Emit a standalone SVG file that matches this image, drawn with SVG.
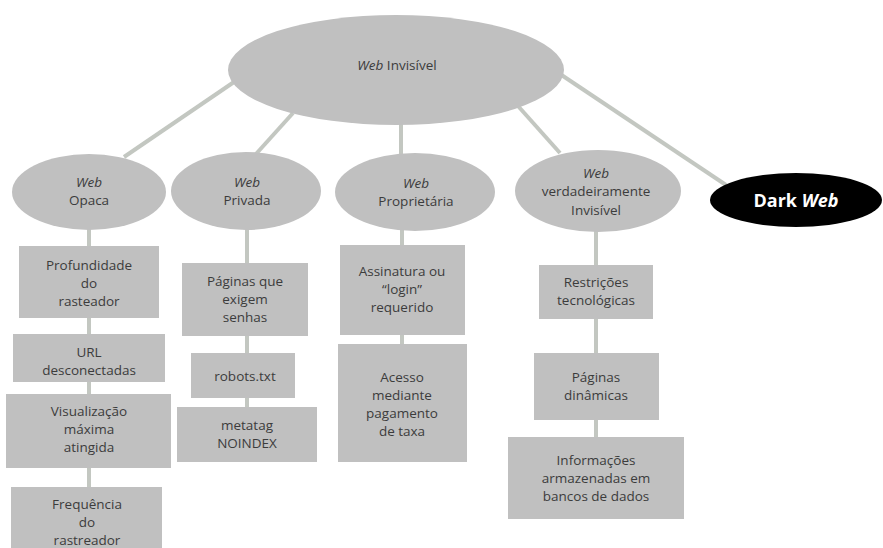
<svg xmlns="http://www.w3.org/2000/svg" width="883" height="548" viewBox="0 0 883 548">
<style>
.bg{fill:#ffffff}
.el{fill:#c0c0c0}
.box{fill:#c0c0c0}
.ln{stroke:#c3c7c1;stroke-width:4;fill:none}
text{font-family:"Open Sans","Liberation Sans",sans-serif;font-size:13.5px;fill:#3c3c3c;text-anchor:middle}
.it{font-style:italic}
.dark{font-family:"Open Sans","Liberation Sans",sans-serif;font-size:18px;font-weight:bold;fill:#ffffff}
</style>
<rect class="bg" x="0" y="0" width="883" height="548"/>
<g id="connectors">
<line class="ln" x1="234" y1="82" x2="124" y2="157"/>
<line class="ln" x1="293" y1="113" x2="256" y2="154"/>
<line class="ln" x1="401" y1="124" x2="401" y2="155"/>
<line class="ln" x1="518" y1="106" x2="560" y2="153"/>
<line class="ln" x1="560" y1="74" x2="726" y2="185"/>
<line class="ln" x1="89" y1="228" x2="89" y2="490"/>
<line class="ln" x1="247" y1="228" x2="247" y2="410"/>
<line class="ln" x1="402" y1="228" x2="402" y2="346"/>
<line class="ln" x1="596" y1="230" x2="596" y2="440"/>
</g>
<g id="web-invisivel">
<ellipse class="el" cx="396" cy="70" rx="168" ry="55"/>
<text x="397" y="70"><tspan class="it">Web</tspan> Invisível</text>
</g>
<g id="web-opaca">
<ellipse class="el" cx="89" cy="192" rx="77" ry="38"/>
<text x="89" y="187" class="it">Web</text>
<text x="89" y="205">Opaca</text>
</g>
<g id="web-privada">
<ellipse class="el" cx="246" cy="191" rx="75" ry="39"/>
<text x="247" y="187" class="it">Web</text>
<text x="247" y="205">Privada</text>
</g>
<g id="web-proprietaria">
<ellipse class="el" cx="415" cy="192" rx="80" ry="39"/>
<text x="416" y="188" class="it">Web</text>
<text x="416" y="206">Proprietária</text>
</g>
<g id="web-verdadeiramente">
<ellipse class="el" cx="598" cy="191" rx="83" ry="41"/>
<text x="596" y="178" class="it">Web</text>
<text x="596" y="196">verdadeiramente</text>
<text x="596" y="215">Invisível</text>
</g>
<g id="dark-web">
<ellipse cx="796" cy="200" rx="86" ry="27" fill="#000000"/>
<text x="796" y="207" class="dark">Dark <tspan font-style="italic">Web</tspan></text>
</g>
<g id="profundidade">
<rect class="box" x="19" y="246" width="140" height="72"/>
<text x="89" y="270">Profundidade</text>
<text x="89" y="288">do</text>
<text x="89" y="306">rasteador</text>
</g>
<g id="url">
<rect class="box" x="13" y="334" width="152" height="48"/>
<text x="89" y="357">URL</text>
<text x="89" y="375">desconectadas</text>
</g>
<g id="visualizacao">
<rect class="box" x="6" y="394" width="165" height="74"/>
<text x="89" y="416">Visualização</text>
<text x="89" y="434">máxima</text>
<text x="89" y="452">atingida</text>
</g>
<g id="frequencia">
<rect class="box" x="11" y="487" width="151" height="70"/>
<text x="87" y="509">Frequência</text>
<text x="87" y="527">do</text>
<text x="87" y="545">rastreador</text>
</g>
<g id="paginas-senhas">
<rect class="box" x="182" y="263" width="126" height="73"/>
<text x="245" y="286">Páginas que</text>
<text x="245" y="304">exigem</text>
<text x="245" y="322">senhas</text>
</g>
<g id="robots">
<rect class="box" x="191" y="353" width="104" height="45"/>
<text x="245" y="381">robots.txt</text>
</g>
<g id="metatag">
<rect class="box" x="177" y="407" width="140" height="55"/>
<text x="247" y="430">metatag</text>
<text x="247" y="448">NOINDEX</text>
</g>
<g id="assinatura">
<rect class="box" x="340" y="245" width="125" height="90"/>
<text x="402" y="276">Assinatura ou</text>
<text x="402" y="294">“login”</text>
<text x="402" y="312">requerido</text>
</g>
<g id="acesso">
<rect class="box" x="338" y="344" width="129" height="118"/>
<text x="402" y="382">Acesso</text>
<text x="402" y="400">mediante</text>
<text x="402" y="418">pagamento</text>
<text x="402" y="436">de taxa</text>
</g>
<g id="restricoes">
<rect class="box" x="539" y="265" width="114" height="54"/>
<text x="596" y="287">Restrições</text>
<text x="596" y="305">tecnológicas</text>
</g>
<g id="paginas-dinamicas">
<rect class="box" x="534" y="353" width="125" height="67"/>
<text x="596" y="382">Páginas</text>
<text x="596" y="400">dinâmicas</text>
</g>
<g id="informacoes">
<rect class="box" x="508" y="437" width="176" height="82"/>
<text x="596" y="465">Informações</text>
<text x="596" y="483">armazenadas em</text>
<text x="596" y="501">bancos de dados</text>
</g>
</svg>
